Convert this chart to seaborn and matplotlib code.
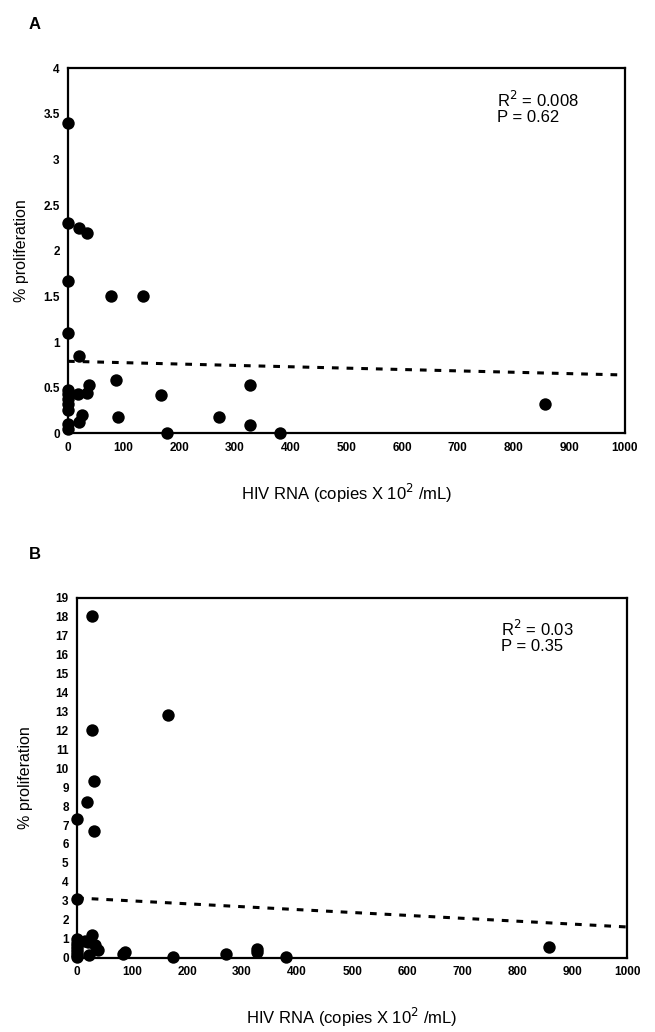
import matplotlib
matplotlib.use("Agg")
import matplotlib.pyplot as plt
import seaborn as sns
import pandas as pd

# panel A: HIV RNA vs % proliferation
a_rna = [0, 0, 0, 0, 0, 0, 0, 0, 0, 0, 0, 20, 34, 77, 135, 20, 18, 34, 38,
         20, 26, 86, 89, 167, 177, 272, 327, 327, 380, 857]
a_prolif = [3.4, 2.3, 1.67, 1.1, 0.48, 0.43, 0.38, 0.32, 0.26, 0.1, 0.05,
            2.25, 2.2, 1.5, 1.5, 0.85, 0.43, 0.44, 0.53, 0.13, 0.2, 0.58,
            0.18, 0.42, 0.0, 0.18, 0.53, 0.09, 0.0, 0.32]
a_fit_x = [0, 1000]
a_fit_y = [0.79, 0.64]

# panel B
b_rna = [0, 0, 0, 0, 0, 0, 0, 0, 0, 27, 28, 30, 19, 31, 27, 20, 15, 33, 39,
         21, 84, 88, 166, 175, 270, 327, 327, 380, 857]
b_prolif = [7.3, 3.1, 1.0, 0.8, 0.6, 0.45, 0.3, 0.15, 0.05, 18.0, 12.0, 9.3,
            8.2, 6.7, 1.2, 0.85, 0.9, 0.65, 0.4, 0.12, 0.2, 0.3, 12.8, 0.02,
            0.22, 0.45, 0.3, 0.02, 0.55]
b_fit_x = [0, 1000]
b_fit_y = [3.15, 1.62]

panels = [
    ("A", a_rna, a_prolif, a_fit_x, a_fit_y, "R$^2$ = 0.008\nP = 0.62",
     [0.1038, 0.580, 0.850, 0.354], 4, 0.5, 10),
    ("B", b_rna, b_prolif, b_fit_x, b_fit_y, "R$^2$ = 0.03\nP = 0.35",
     [0.1176, 0.072, 0.840, 0.349], 19, 1, 16),
]

sns.set_style("white")
plt.rcParams['font.family'] = ['Liberation Sans', 'DejaVu Sans']
plt.rcParams['text.color'] = 'black'
plt.rcParams['axes.labelcolor'] = 'black'
plt.rcParams['xtick.color'] = 'black'
plt.rcParams['ytick.color'] = 'black'

fig = plt.figure(figsize=(6.55, 10.32), dpi=100)

for letter, xs, ys, fx, fy, stats, rect, ymax, ystep, ypad in panels:
    ax = fig.add_axes(rect)
    df = pd.DataFrame({"rna": xs, "prolif": ys})
    fit = pd.DataFrame({"rna": fx, "prolif": fy})
    sns.lineplot(data=fit, x="rna", y="prolif", ax=ax, color="black",
                 linewidth=2.2, dashes=False, linestyle=(0, (2.2, 2.6)), zorder=2)
    sns.scatterplot(data=df, x="rna", y="prolif", ax=ax, color="black",
                    s=80, edgecolor="black", linewidth=0, zorder=3, clip_on=False)
    ax.set_xlim(0, 1000)
    ax.set_ylim(0, ymax)
    ax.set_xticks(range(0, 1001, 100))
    yt = [i * ystep for i in range(int(ymax / ystep) + 1)]
    ax.set_yticks(yt)
    ax.set_yticklabels(["%g" % v for v in yt])
    ax.tick_params(axis="both", labelsize=8.5, length=3, width=1,
                   direction="out", color="black", labelcolor="black", pad=3)
    for lab in ax.get_xticklabels() + ax.get_yticklabels():
        lab.set_fontweight("bold")
    for sp in ax.spines.values():
        sp.set_color("black")
        sp.set_linewidth(1.6)
    ax.set_xlabel("HIV RNA (copies X 10$^2$ /mL)", fontsize=12, labelpad=20)
    ax.set_ylabel("% proliferation", fontsize=11.5, labelpad=ypad)
    ax.text(0.77, 0.94, stats, transform=ax.transAxes, fontsize=12,
            va="top", ha="left", linespacing=1.0)
    fig.text(0.053, rect[1] + rect[3] + 0.042, letter, fontsize=12,
             fontweight="bold", ha="center", va="center")

fig.savefig("out.png", dpi=100)
